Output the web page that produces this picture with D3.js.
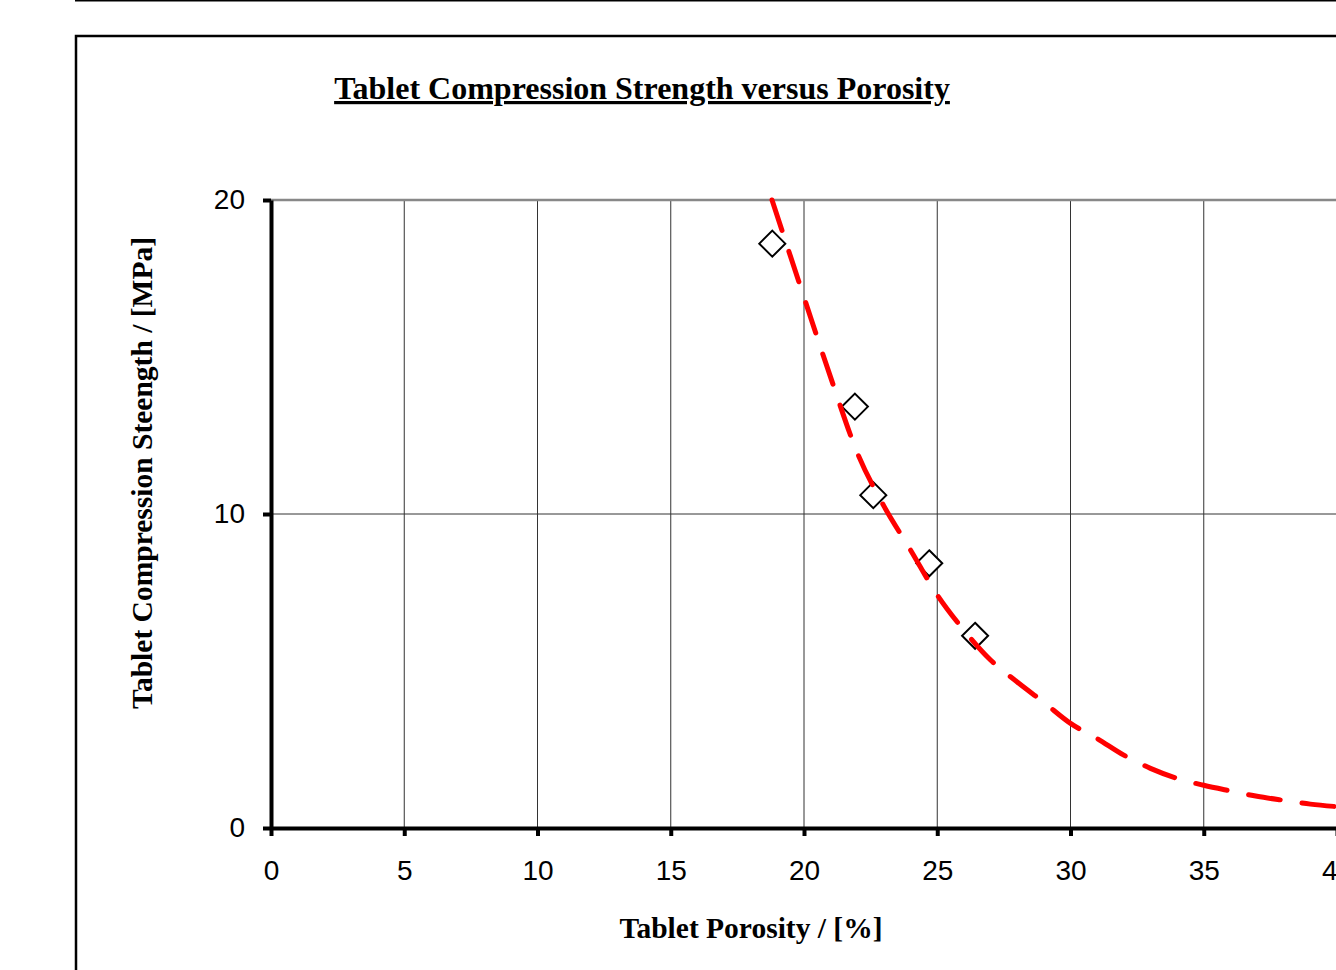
<!DOCTYPE html>
<html lang="en">
<head>
    <meta charset="UTF-8">
    <title>Tablet Compression Strength versus Porosity</title>
    <script src="https://d3js.org/d3.v7.min.js"></script>
    <style>
        body {
            margin: 0;
            padding: 0;
            background: #fff;
            overflow: hidden;
        }
        .grid line {
            stroke: #333;
            stroke-width: 1px;
        }
        .title, .axis-title {
            font-family: "Liberation Serif", "Times New Roman", serif;
            font-weight: bold;
            fill: #000;
        }
    </style>
</head>
<body>
    <div id="chart"></div>

    <script>
        // measured points
        const porosity = [18.81, 21.91, 22.60, 24.70, 26.42];
        const strength = [18.61, 13.42, 10.60, 8.43, 6.12];

        // trendline
        const trendX = [18.8, 20, 21, 22, 23, 24, 25, 26, 27, 28, 29, 30, 31, 32, 33, 34, 35, 36, 37, 38, 39, 40];
        const trendY = [20.0, 16.9, 14.35, 11.95, 10.25, 8.85, 7.42, 6.3, 5.35, 4.65, 4.0, 3.33, 2.85, 2.32, 1.9, 1.58, 1.36, 1.18, 1.01, 0.88, 0.76, 0.68];

        const xTicks = [0, 5, 10, 15, 20, 25, 30, 35, 40];
        const yTicks = [0, 10, 20];

        const width = 1336, height = 970;
        const plot = { left: 271, right: 1337, top: 200, bottom: 828 };

        const svg = d3.select("#chart")
            .append("svg")
            .attr("width", width)
            .attr("height", height);

        const x = d3.scaleLinear().domain([0, 40]).range([plot.left, plot.right]);
        const y = d3.scaleLinear().domain([0, 20]).range([plot.bottom, plot.top]);

        // frame bits from the page
        svg.append("line")
            .attr("x1", 75).attr("x2", width)
            .attr("y1", 0.5).attr("y2", 0.5)
            .attr("stroke", "#000").attr("stroke-width", 2);
        svg.append("path")
            .attr("d", `M76,${height} V36 H${width}`)
            .attr("fill", "none")
            .attr("stroke", "#000")
            .attr("stroke-width", 2.5);

        // title
        svg.append("text")
            .attr("class", "title")
            .attr("x", 642)
            .attr("y", 99)
            .attr("text-anchor", "middle")
            .attr("font-size", 32)
            .attr("text-decoration", "underline")
            .text("Tablet Compression Strength versus Porosity");

        // grid
        const grid = svg.append("g").attr("class", "grid");
        grid.selectAll(".vx")
            .data(xTicks.filter(d => d > 0))
            .enter().append("line")
            .attr("x1", d => x(d)).attr("x2", d => x(d))
            .attr("y1", y(20)).attr("y2", y(0));
        grid.selectAll(".hy")
            .data(yTicks.filter(d => d > 0 && d < 20))
            .enter().append("line")
            .attr("x1", x(0)).attr("x2", x(40))
            .attr("y1", d => y(d)).attr("y2", d => y(d));
        svg.append("line")
            .attr("x1", x(0)).attr("x2", x(40))
            .attr("y1", y(20)).attr("y2", y(20))
            .attr("stroke", "#888")
            .attr("stroke-width", 2.5);

        // axes
        const xAxis = svg.append("g")
            .attr("transform", `translate(0,${y(0)})`)
            .call(d3.axisBottom(x).tickValues(xTicks).tickSize(8).tickSizeOuter(0));
        const yAxis = svg.append("g")
            .attr("transform", `translate(${x(0)},0)`)
            .call(d3.axisLeft(y).tickValues(yTicks).tickSize(8).tickSizeOuter(0));

        [xAxis, yAxis].forEach(a => {
            a.select(".domain").attr("stroke", "#000").attr("stroke-width", 4);
            a.selectAll(".tick line").attr("stroke", "#000").attr("stroke-width", 4);
            a.selectAll(".tick text")
                .attr("fill", "#000")
                .style("font-size", "28px")
                .style("font-family", '"Liberation Sans", Arial, sans-serif');
        });
        xAxis.selectAll(".tick text").attr("y", 32).attr("dy", "0.71em");
        yAxis.selectAll(".tick text").attr("x", -26).attr("dy", "0.3em");

        // axis titles
        svg.append("text")
            .attr("class", "axis-title")
            .attr("x", 751)
            .attr("y", 938)
            .attr("text-anchor", "middle")
            .attr("font-size", 29.5)
            .text("Tablet Porosity / [%]");
        svg.append("text")
            .attr("class", "axis-title")
            .attr("transform", "translate(152,473) rotate(-90)")
            .attr("text-anchor", "middle")
            .attr("font-size", 29.5)
            .text("Tablet Compression Steength / [MPa]");

        // markers
        const pts = porosity.map((p, i) => [p, strength[i]]);
        svg.selectAll(".pt")
            .data(pts)
            .enter().append("path")
            .attr("class", "pt")
            .attr("transform", d => `translate(${x(d[0])},${y(d[1])})`)
            .attr("d", "M0,-13 L13,0 L0,13 L-13,0 Z")
            .attr("fill", "#fff")
            .attr("stroke", "#000")
            .attr("stroke-width", 2);

        // trendline
        const trend = trendX.map((t, i) => [t, trendY[i]]);
        svg.append("path")
            .datum(trend)
            .attr("d", d3.line()
                .x(d => x(d[0]))
                .y(d => y(d[1]))
                .curve(d3.curveMonotoneX))
            .attr("fill", "none")
            .attr("stroke", "#ff0000")
            .attr("stroke-width", 5)
            .attr("stroke-linecap", "round")
            .attr("stroke-dasharray", "32,22");
    </script>
</body>
</html>
